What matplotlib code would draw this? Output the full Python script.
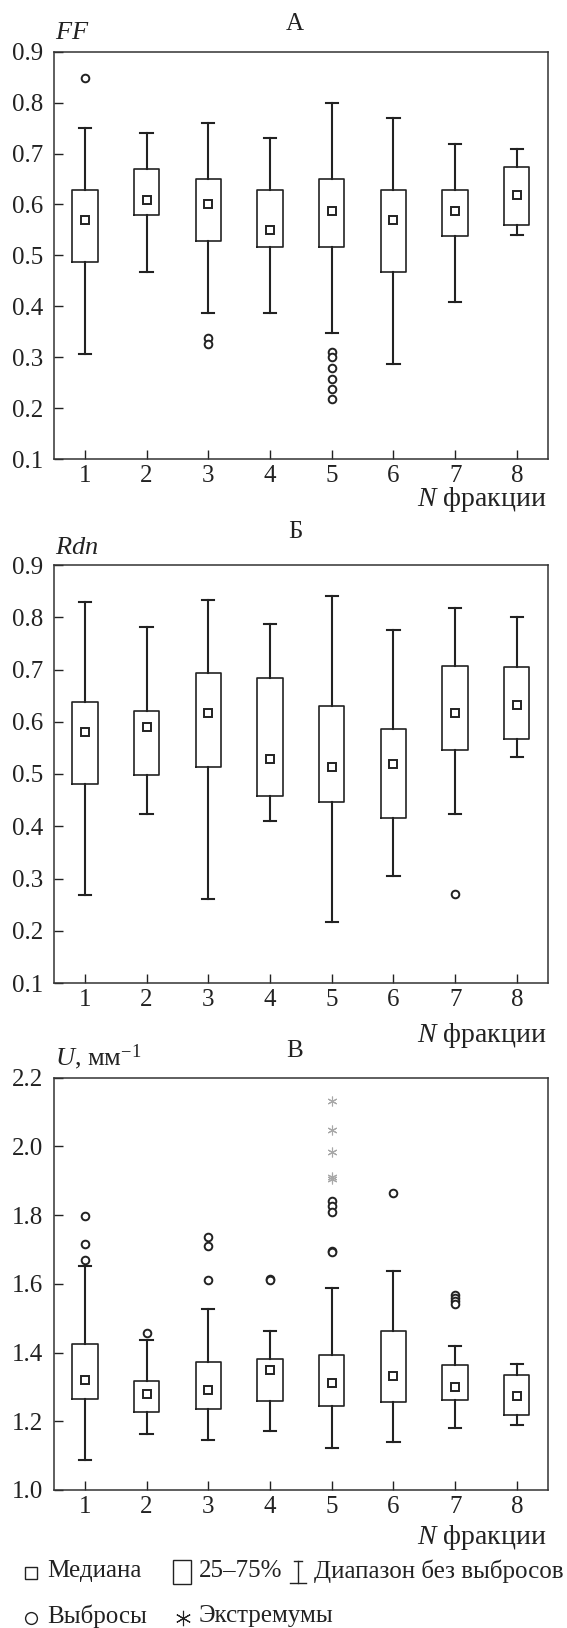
import matplotlib.pyplot as plt
from matplotlib.patches import Rectangle
import numpy as np

plt.rcParams['font.family'] = ['Liberation Serif', 'DejaVu Serif']
plt.rcParams['mathtext.fontset'] = 'custom'
plt.rcParams['mathtext.rm'] = 'Liberation Serif'
plt.rcParams['mathtext.it'] = 'Liberation Serif:italic'

ink = '#222222'
fractions = [1, 2, 3, 4, 5, 6, 7, 8]

# A: FF
ff_med = [0.570, 0.609, 0.600, 0.549, 0.587, 0.570, 0.587, 0.618]
ff_q1 = [0.487, 0.579, 0.529, 0.517, 0.517, 0.468, 0.538, 0.559]
ff_q3 = [0.629, 0.669, 0.650, 0.629, 0.650, 0.629, 0.629, 0.674]
ff_lo = [0.307, 0.468, 0.387, 0.387, 0.347, 0.287, 0.408, 0.539]
ff_hi = [0.750, 0.740, 0.760, 0.731, 0.800, 0.770, 0.719, 0.709]
ff_out = [[0.848], [], [0.337, 0.326], [], [0.311, 0.300, 0.279, 0.258, 0.237, 0.218], [], [], []]

# Б: Rdn
rdn_med = [0.580, 0.590, 0.616, 0.529, 0.513, 0.520, 0.616, 0.632]
rdn_q1 = [0.480, 0.499, 0.514, 0.458, 0.447, 0.416, 0.546, 0.567]
rdn_q3 = [0.638, 0.620, 0.693, 0.683, 0.631, 0.586, 0.707, 0.705]
rdn_lo = [0.268, 0.423, 0.261, 0.410, 0.216, 0.305, 0.423, 0.532]
rdn_hi = [0.830, 0.782, 0.833, 0.788, 0.840, 0.775, 0.818, 0.800]
rdn_out = [[], [], [], [], [], [], [0.270], []]

# В: U, mm^-1
u_med = [1.319, 1.278, 1.291, 1.350, 1.310, 1.333, 1.301, 1.273]
u_q1 = [1.265, 1.226, 1.237, 1.260, 1.243, 1.256, 1.261, 1.219]
u_q3 = [1.424, 1.317, 1.371, 1.382, 1.393, 1.464, 1.364, 1.335]
u_lo = [1.087, 1.163, 1.146, 1.172, 1.122, 1.139, 1.180, 1.188]
u_hi = [1.651, 1.436, 1.528, 1.463, 1.587, 1.638, 1.418, 1.368]
u_out = [[1.796, 1.715, 1.669], [1.456], [1.737, 1.710, 1.611], [1.614, 1.611],
         [1.842, 1.825, 1.808, 1.695, 1.692], [1.864], [1.567, 1.559, 1.549, 1.542], []]
u_ext = [[], [], [], [], [2.132, 2.046, 1.982, 1.911, 1.905], [], [], []]

fig = plt.figure(figsize=(5.67, 16.28), dpi=100)

W, H = 567, 1628
FS = 18

def px_axes(left, top, right, bottom):
    return fig.add_axes([left / W, 1 - bottom / H, (right - left) / W, (bottom - top) / H])

def panel(ax, med, q1, q3, lo, hi, out, ext, yticks, fmt):
    stats = []
    for i in range(len(fractions)):
        stats.append(dict(med=med[i], q1=q1[i], q3=q3[i], whislo=lo[i], whishi=hi[i], fliers=out[i]))
    ax.bxp(stats, positions=fractions, widths=0.41, showfliers=True, manage_ticks=False,
           boxprops=dict(color=ink, linewidth=1.2),
           whiskerprops=dict(color=ink, linewidth=1.5),
           capprops=dict(color=ink, linewidth=1.5),
           capwidths=0.2,
           medianprops=dict(linewidth=0),
           flierprops=dict(marker='o', markersize=5.5, markerfacecolor='white',
                           markeredgecolor=ink, markeredgewidth=1.4, linestyle='none'))
    ax.plot(fractions, med, 's', markersize=5.6, markerfacecolor='white',
            markeredgecolor=ink, markeredgewidth=1.4, linestyle='none', zorder=5)
    if ext is not None:
        for x, vals in zip(fractions, ext):
            if vals:
                ax.plot([x] * len(vals), vals, marker=(6, 2, 0), markersize=7,
                        color='#a8a8a8', markeredgewidth=0.8, linestyle='none')
    ax.set_xlim(0.5, 8.5)
    ax.set_ylim(yticks[0], yticks[-1])
    ax.set_xticks(fractions)
    ax.set_yticks(yticks)
    ax.set_yticklabels([fmt % v for v in yticks])
    ax.tick_params(direction='in', length=6.5, width=1.0, labelsize=FS,
                   colors=ink, top=False, right=False)
    ax.tick_params(axis='x', pad=4)
    ax.tick_params(axis='y', pad=8)
    for s in ax.spines.values():
        s.set_color('#333333')
        s.set_linewidth(1.1)

yt = np.round(np.arange(0.1, 0.91, 0.1), 1)
axA = px_axes(54, 51.7, 547.7, 459)
panel(axA, ff_med, ff_q1, ff_q3, ff_lo, ff_hi, ff_out, None, yt, '%.1f')
axB = px_axes(54, 565, 547.7, 983)
panel(axB, rdn_med, rdn_q1, rdn_q3, rdn_lo, rdn_hi, rdn_out, None, yt, '%.1f')
axC = px_axes(54, 1077.5, 547.7, 1490)
panel(axC, u_med, u_q1, u_q3, u_lo, u_hi, u_out, u_ext, np.round(np.arange(1.0, 2.21, 0.2), 1), '%.1f')

# overlay in pixel coordinates for texts and the legend
ov = fig.add_axes([0, 0, 1, 1], facecolor='none')
ov.set_xlim(0, W)
ov.set_ylim(H, 0)
ov.axis('off')

def txt(x, y, s, ha='left', size=FS):
    ov.text(x, y, s, ha=ha, va='center', fontsize=size, color=ink)

txt(295, 24, 'А', ha='center')
txt(295, 532, 'Б', ha='center')
txt(295, 1051, 'В', ha='center')
txt(55, 33, '$FF$', size=19)
txt(55, 548, '$Rdn$', size=19)
txt(55, 1057, '$U$, мм$^{-1}$', size=19)
txt(546, 499, '$N$ фракции', ha='right', size=20)
txt(546, 1036, '$N$ фракции', ha='right', size=20)
txt(546, 1538, '$N$ фракции', ha='right', size=20)

# legend
ov.plot([31], [1573], 's', markersize=8.5, markerfacecolor='white', markeredgecolor=ink, markeredgewidth=1.0)
txt(47, 1571, 'Медиана')
ov.add_patch(Rectangle((173, 1560), 18, 24, facecolor='white', edgecolor=ink, linewidth=1.0))
txt(199, 1571, '25–75%')
ov.plot([298, 298], [1561, 1583], color=ink, linewidth=1.0)
ov.plot([294, 302], [1561, 1561], color=ink, linewidth=1.0)
ov.plot([290, 306], [1583, 1583], color=ink, linewidth=1.0)
txt(314, 1571, 'Диапазон без выбросов')
ov.plot([31], [1618], 'o', markersize=8.5, markerfacecolor='white', markeredgecolor=ink, markeredgewidth=1.0)
txt(47, 1616, 'Выбросы')
ov.plot([183], [1618], marker=(6, 2, 0), markersize=11, color=ink, markeredgewidth=0.8)
txt(199, 1616, 'Экстремумы')

fig.savefig('out.png', dpi=100)
